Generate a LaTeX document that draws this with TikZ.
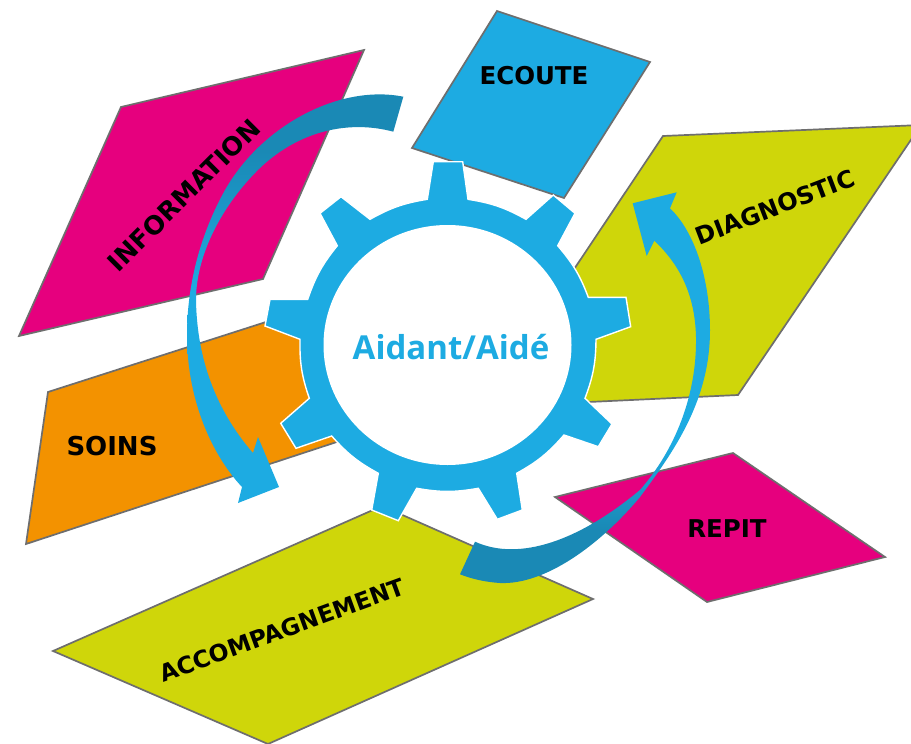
\documentclass[tikz,border=0pt]{standalone}
\usepackage{fontspec}
\setmainfont{DejaVu Sans}
\newfontfamily\gearfont{Open Sans}
\definecolor{gearblue}{HTML}{1DABE2}
\definecolor{darkblue}{HTML}{1A89B5}
\definecolor{pinkc}{HTML}{E6007E}
\definecolor{limec}{HTML}{CFD60A}
\definecolor{orangec}{HTML}{F39200}
\definecolor{edgec}{HTML}{6E6E6E}
\pgfdeclareverticalshading{arrowL}{100bp}{color(0bp)=(gearblue); color(50bp)=(gearblue); color(67bp)=(darkblue); color(100bp)=(darkblue)}
\pgfdeclareverticalshading{arrowR}{100bp}{color(0bp)=(darkblue); color(32bp)=(darkblue); color(43bp)=(gearblue); color(100bp)=(gearblue)}
\tikzset{
  tile/.style={draw=edgec,line width=1.7pt,line join=miter},
  lab/.style={text=black,font=\bfseries\fontsize{#1}{#1}\selectfont,inner sep=0pt},
  gearshape/.style={fill=gearblue,draw=white,line width=1.4pt,line join=miter},
}
\begin{document}
\begin{tikzpicture}[x=1pt,y=-1pt]
\useasboundingbox (0,0) rectangle (911,744);
\clip (0,0) rectangle (911,744);
\fill[white] (0,0) rectangle (911,744);
% tiles
\draw[tile,fill=limec] (663,136) -- (921,125) -- (738,395) -- (482,407) -- cycle;
\draw[tile,fill=pinkc] (121,107) -- (364,50) -- (263,279) -- (19,336) -- cycle;
\draw[tile,fill=gearblue] (497,11) -- (650,62) -- (564,198) -- (412,148) -- cycle;
\draw[tile,fill=orangec] (48,392) -- (350,295) -- (355,436) -- (26,544) -- cycle;
\draw[tile,fill=limec] (53,651) -- (382,506) -- (593,599) -- (268,744) -- cycle;
\draw[tile,fill=pinkc] (555,497) -- (733,453) -- (885,557) -- (707,602) -- cycle;
% gear
\path[gearshape]
  (427.3,199.3) -- (433.3,161.7) -- (462.7,161.7) -- (468,199.3)
  to[bend left=10] (526,219.3) -- (553.3,195) -- (575,213.3) -- (557.7,245.7)
  to[bend left=10] (588.3,297.3) -- (626,297.3) -- (630.7,326.7) -- (596,339.3)
  to[bend left=10] (585,398.3) -- (612,424) -- (598.3,446.7) -- (564,435)
  to[bend left=10] (516.7,473.3) -- (522.3,510) -- (497.3,519.3) -- (478.3,488.3)
  to[bend left=10] (416.7,488.3) -- (398.3,520.7) -- (371.7,510) -- (378.3,473.3)
  to[bend left=10] (331.7,436) -- (296,448.3) -- (280.7,423.3) -- (309.3,398.3)
  to[bend left=10] (300,339.3) -- (265,326) -- (270,299.3) -- (307.7,299.3)
  to[bend left=10] (337.3,245.7) -- (320,213.3) -- (341,196.7) -- (370,219.3)
  to[bend left=10] cycle;
\fill[white] (447.5,345) ellipse [x radius=124, y radius=120];
% arrows
\shade[shading=arrowL]
  (403.3,96.7) .. controls (340,84) and (262,125) .. (225,190)
  .. controls (200,235) and (187,285) .. (187,335)
  .. controls (187,400) and (212,455) .. (242,487)
  -- (238,503) -- (279,487) -- (258,437) -- (253,453)
  .. controls (220,415) and (197,365) .. (196,300)
  .. controls (196,255) and (222,205) .. (260,168)
  .. controls (300,130) and (350,120) .. (393.3,131.7)
  -- cycle;
\shade[shading=arrowR]
  (670,208.3) .. controls (695,232) and (710,280) .. (710,330)
  .. controls (710,400) and (675,450) .. (640,497)
  .. controls (600,545) and (545,585) .. (500,583)
  .. controls (485,582) and (472,579) .. (460,574.3)
  -- (475,541.7)
  .. controls (520,562) and (580,540) .. (640,490)
  .. controls (675,450) and (697,395) .. (696,337)
  .. controls (695,295) and (680,265) .. (654.3,240.7)
  -- (646.7,256) -- (632.7,203.3) -- (676.7,192.3) -- cycle;
% labels
\node[lab=25.5,rotate=45] (info) at (184,195) {INFORMATION};
\node[lab=24.5] (ecoute) at (534,76) {ECOUTE};
\node[lab=24,rotate=21] (diag) at (775,207) {DIAGNOSTIC};
\node[lab=26] (soins) at (112,446) {SOINS};
\node[lab=24.5] (repit) at (727,529) {REPIT};
\node[lab=23.5,rotate=20] (accomp) at (282,630) {ACCOMPAGNEMENT};
\node[text=gearblue,font=\gearfont\bfseries\fontsize{33}{33}\selectfont,inner sep=0pt] (center) at (451,347) {Aidant/Aidé};
\end{tikzpicture}
\end{document}
